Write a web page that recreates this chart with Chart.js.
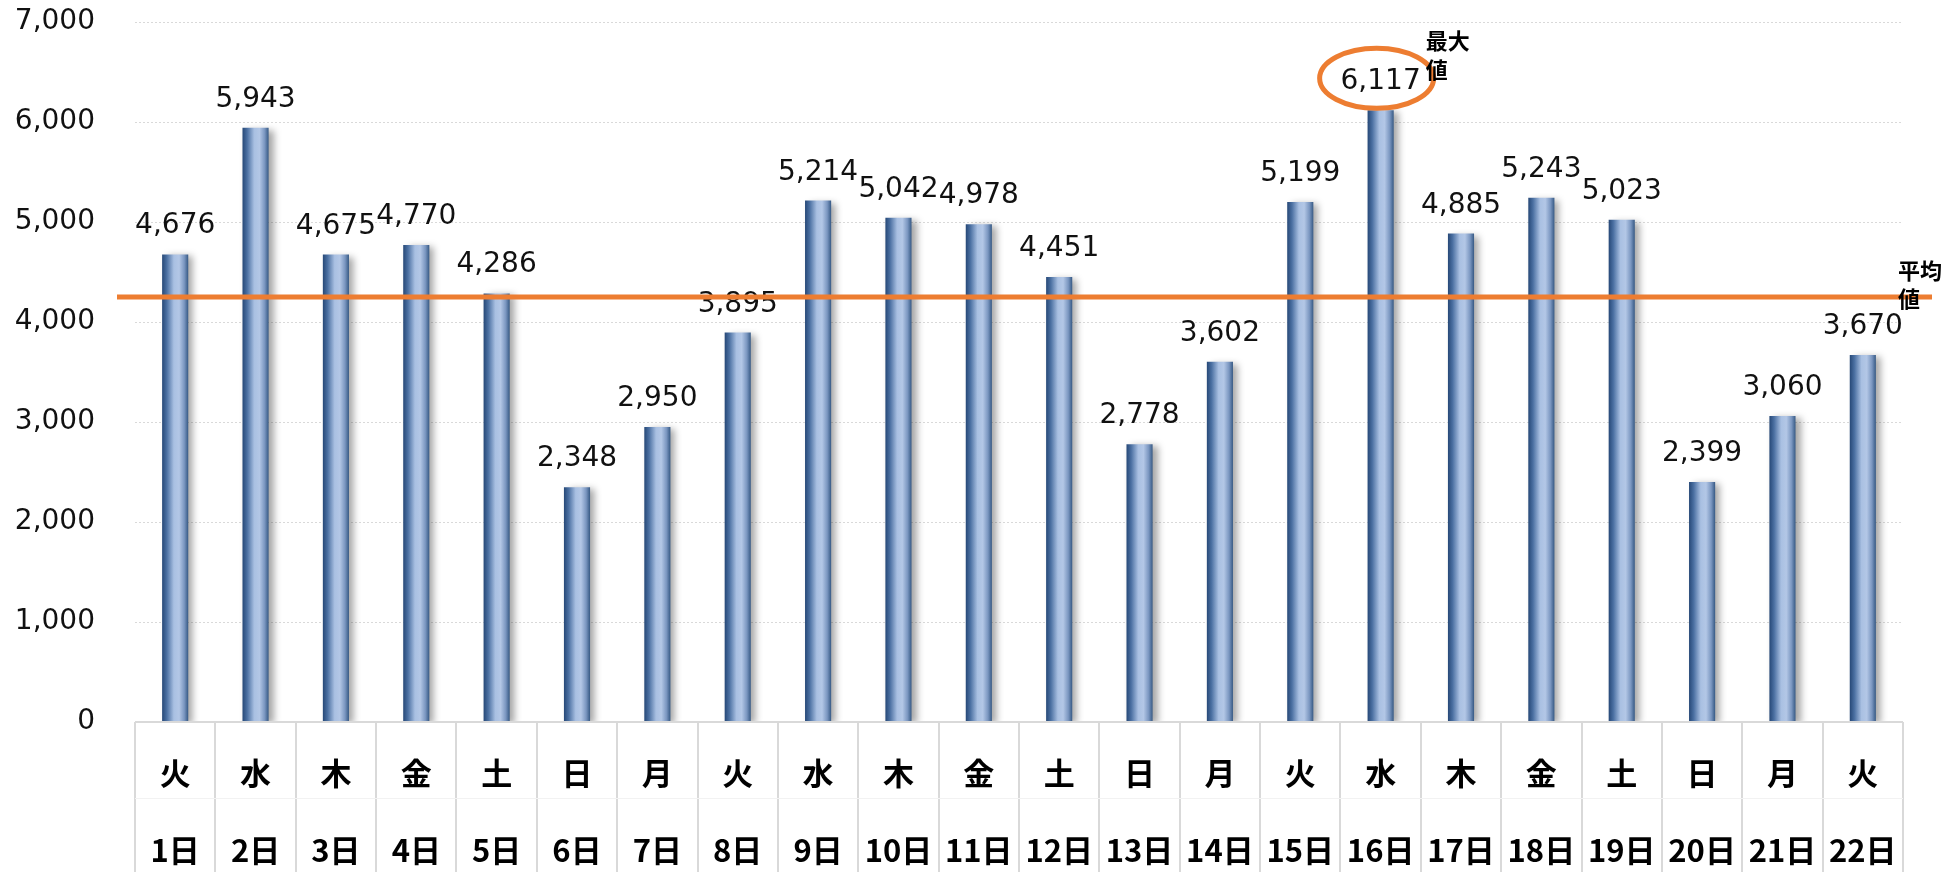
<!DOCTYPE html>
<html>
<head>
<meta charset="utf-8">
<script src="https://cdn.jsdelivr.net/npm/chart.js@4.4.1/dist/chart.umd.min.js"></script>
<style>
  body { margin: 0; background: #fff; }
  #wrap { width: 1958px; height: 872px; }
</style>
</head>
<body>
<div id="wrap"><canvas id="myChart" width="1958" height="872"></canvas></div>
<script>
// 日別の値
const days = ['1日','2日','3日','4日','5日','6日','7日','8日','9日','10日','11日','12日','13日','14日','15日','16日','17日','18日','19日','20日','21日','22日'];
const weekdays = ['火','水','木','金','土','日','月','火','水','木','金','土','日','月','火','水','木','金','土','日','月','火'];
const values = [4676, 5943, 4675, 4770, 4286, 2348, 2950, 3895, 5214, 5042, 4978, 4451, 2778, 3602, 5199, 6117, 4885, 5243, 5023, 2399, 3060, 3670];
const yTicks = [0, 1000, 2000, 3000, 4000, 5000, 6000, 7000];
const avgValue = 4250;  // 平均値ライン
const avgLabel = ['平均', '値'];
const maxLabel = ['最大', '値'];

const ORANGE = '#ED7D31';
const BAR_PCT = 0.325;
const numFont = '28px "DejaVu Sans", Verdana, sans-serif';
const jpBold = 'bold 31px "Noto Sans CJK JP", sans-serif';
const jpSmall = 'bold 22px "Noto Sans CJK JP", sans-serif';

function fmt(v) {
    return v.toLocaleString('en-US');
}

// バーのグラデーション
function barGradient(ctx) {
    const chart = ctx.chart;
    const xs = chart.scales.x;
    if (!xs || !chart.chartArea) return '#4f72a0';
    const x = xs.getPixelForValue(ctx.dataIndex);
    const w = (chart.chartArea.width / values.length) * BAR_PCT;
    const g = chart.ctx.createLinearGradient(x - w / 2, 0, x + w / 2, 0);
    g.addColorStop(0, '#264877');
    g.addColorStop(0.18, '#4b70a2');
    g.addColorStop(0.45, '#a9c0e2');
    g.addColorStop(0.65, '#b3c7e6');
    g.addColorStop(0.85, '#7a96c0');
    g.addColorStop(1, '#365984');
    return g;
}

const shadowPlugin = {
    id: 'shadow',
    beforeDatasetsDraw(chart) {
        const c = chart.ctx;
        c.save();
        c.shadowColor = 'rgba(0,0,0,0.35)';
        c.shadowBlur = 7;
        c.shadowOffsetX = 5;
        c.shadowOffsetY = 2;
    },
    afterDatasetsDraw(chart) {
        chart.ctx.restore();
    }
};

// ラベル、平均線、最大値、下の表
const extrasPlugin = {
    id: 'extras',
    afterDraw(chart) {
        const c = chart.ctx;
        const area = chart.chartArea;
        const xs = chart.scales.x;
        const ys = chart.scales.y;
        const meta = chart.getDatasetMeta(0);
        const colW = area.width / values.length;

        // 表
        c.save();
        c.strokeStyle = '#d9d9d9';
        c.lineWidth = 2;
        c.beginPath();
        c.moveTo(area.left, area.bottom);
        c.lineTo(area.right, area.bottom);
        for (let i = 0; i <= values.length; i++) {
            const x = Math.round(area.left + colW * i);
            c.moveTo(x, area.bottom);
            c.lineTo(x, chart.height);
        }
        c.stroke();
        c.strokeStyle = '#f2f2f2';
        c.lineWidth = 1;
        c.beginPath();
        c.moveTo(area.left, area.bottom + 76.5);
        c.lineTo(area.right, area.bottom + 76.5);
        c.stroke();

        c.fillStyle = '#000';
        c.textAlign = 'center';
        c.textBaseline = 'middle';
        c.font = jpBold;
        for (let i = 0; i < values.length; i++) {
            const x = xs.getPixelForValue(i);
            c.fillText(weekdays[i], x, area.bottom + 51);
            c.fillText(days[i], x, area.bottom + 128);
        }

        // 数値ラベル
        c.font = numFont;
        c.fillStyle = '#111';
        c.textBaseline = 'alphabetic';
        meta.data.forEach((bar, i) => {
            c.fillText(fmt(values[i]), bar.x, bar.y - 21);
        });

        // 平均線
        const ay = ys.getPixelForValue(avgValue);
        c.strokeStyle = ORANGE;
        c.lineWidth = 5;
        c.beginPath();
        c.moveTo(area.left - 18, ay);
        c.lineTo(area.right + 29, ay);
        c.stroke();
        c.font = jpSmall;
        c.fillStyle = '#000';
        c.textAlign = 'left';
        c.textBaseline = 'middle';
        c.fillText(avgLabel[0], area.right - 5, ay - 26);
        c.fillText(avgLabel[1], area.right - 5, ay + 2);

        // 最大値
        let mi = 0;
        values.forEach((v, i) => { if (v > values[mi]) mi = i; });
        const mb = meta.data[mi];
        const cy = mb.y - 32;
        c.strokeStyle = ORANGE;
        c.lineWidth = 5;
        c.beginPath();
        c.ellipse(mb.x - 4, cy, 57, 30, 0, 0, Math.PI * 2);
        c.stroke();
        c.fillText(maxLabel[0], mb.x + 45, mb.y - 70);
        c.fillText(maxLabel[1], mb.x + 45, mb.y - 41);
        c.restore();
    }
};

const ctx = document.getElementById('myChart').getContext('2d');
const myChart = new Chart(ctx, {
    type: 'bar',
    data: {
        labels: days,
        datasets: [{
            data: values,
            backgroundColor: barGradient,
            borderWidth: 0,
            barPercentage: BAR_PCT,
            categoryPercentage: 1
        }]
    },
    options: {
        responsive: false,
        animation: false,
        layout: { padding: { top: 22, right: 55, bottom: 150, left: 0 } },
        plugins: {
            legend: { display: false },
            tooltip: { enabled: false }
        },
        scales: {
            x: { display: false },
            y: {
                min: 0,
                max: 7000,
                afterBuildTicks(scale) {
                    scale.ticks = yTicks.map(v => ({ value: v }));
                },
                afterFit(scale) {
                    scale.width = 135;
                    scale.paddingTop = 0;
                    scale.paddingBottom = 0;
                },
                border: { display: false, dash: [2, 2] },
                grid: {
                    drawTicks: false,
                    color: (c) => c.tick && c.tick.value === 0 ? 'rgba(0,0,0,0)' : '#d9d9d9',
                    lineWidth: 1
                },
                ticks: {
                    padding: 40,
                    color: '#111',
                    font: { family: '"DejaVu Sans", Verdana, sans-serif', size: 28 },
                    callback: (v) => fmt(v)
                }
            }
        }
    },
    plugins: [shadowPlugin, extrasPlugin]
});
</script>
</body>
</html>
